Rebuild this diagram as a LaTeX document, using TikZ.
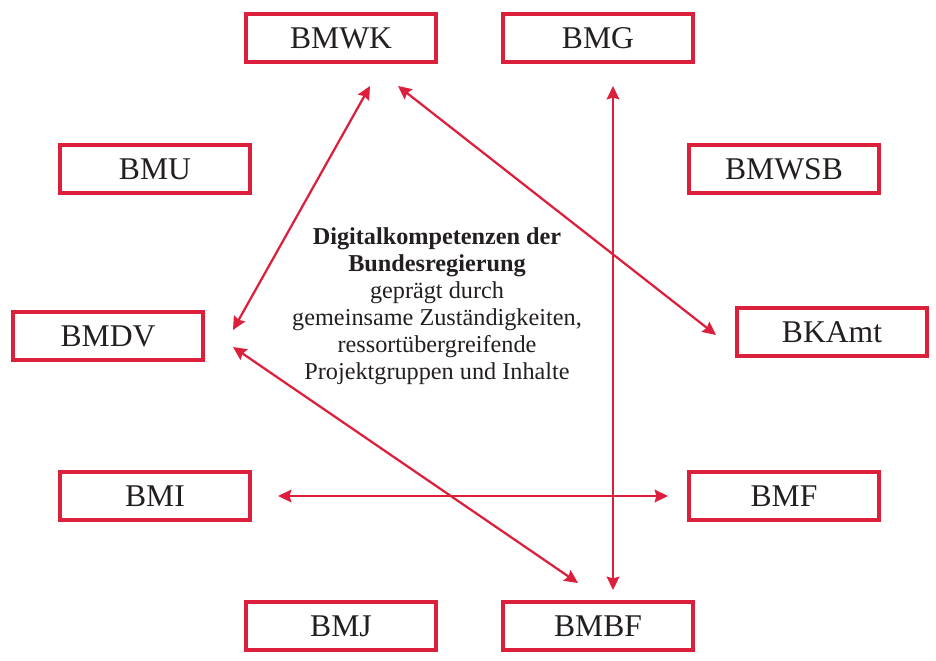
\documentclass[tikz,border=0pt]{standalone}
\usepackage{fontspec}
\setmainfont{Liberation Serif}
\usetikzlibrary{arrows.meta}
\definecolor{ressortred}{RGB}{220,32,60}
\definecolor{ink}{RGB}{35,31,32}
\begin{document}
\begin{tikzpicture}[x=0.02cm,y=-0.02cm,
    ressort/.style={draw=ressortred,line width=0.08cm,minimum width=3.8cm,
      minimum height=0.96cm,inner sep=0pt,text=ink,font=\fontsize{18}{20}\selectfont},
    link/.style={draw=ressortred,line width=0.045cm,
      {Stealth[length=7.6pt,width=7.2pt,inset=1pt]}-{Stealth[length=7.6pt,width=7.2pt,inset=1pt]}}]
  \useasboundingbox (0,0) rectangle (936,660);
  \node[ressort] (bmwk) at (341,38) {BMWK};
  \node[ressort] (bmg) at (598,38) {BMG};
  \node[ressort] (bmu) at (155,169) {BMU};
  \node[ressort] (bmwsb) at (784,169) {BMWSB};
  \node[ressort] (bmdv) at (108,336) {BMDV};
  \node[ressort] (bkamt) at (832,332) {BKAmt};
  \node[ressort] (bmi) at (155,496) {BMI};
  \node[ressort] (bmf) at (784,496) {BMF};
  \node[ressort] (bmj) at (341,626) {BMJ};
  \node[ressort] (bmbf) at (598,626) {BMBF};
  \node[align=center,text=ink,font=\fontsize{13.8}{15.4}\selectfont] (mitte) at (437,306)
    {\textbf{Digitalkompetenzen der}\\ \textbf{Bundesregierung}\\ geprägt durch\\
     gemeinsame Zuständigkeiten,\\ ressortübergreifende\\ Projektgruppen und Inhalte};
  \begin{scope}[link]
    \draw ([shift={(29,48)}]bmwk.center) to ([shift={(125,-6)}]bmdv.center);
    \draw ([shift={(57,48)}]bmwk.center) to ([shift={(-116,3)}]bkamt.center);
    \draw ([shift={(15,48)}]bmg.center) to ([shift={(15,-36)}]bmbf.center);
    \draw ([shift={(125,11)}]bmdv.center) to ([shift={(-20,-43)}]bmbf.center);
    \draw ([shift={(123,0)}]bmi.center) to ([shift={(-116,0)}]bmf.center);
  \end{scope}
\end{tikzpicture}
\end{document}
